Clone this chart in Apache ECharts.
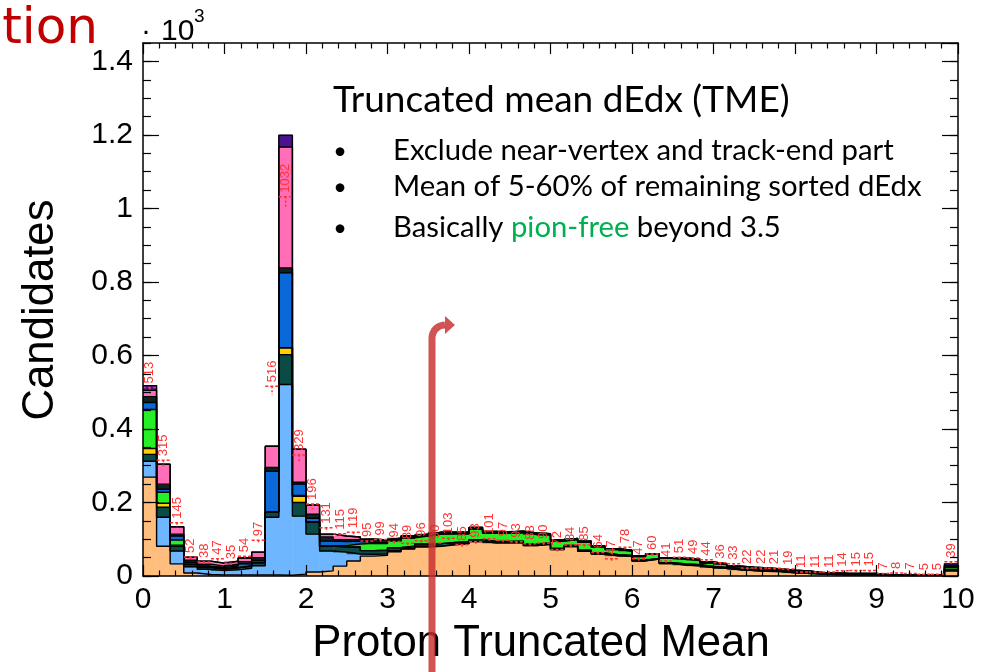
<!DOCTYPE html>
<html>
<head>
<meta charset="utf-8">
<script src="https://cdn.jsdelivr.net/npm/echarts@6/dist/echarts.min.js"></script>
<style>html,body{margin:0;padding:0;background:#fff;}#chart{width:1002px;height:672px;}</style>
</head>
<body>
<div id="chart"></div>
<script>
// ---------------- data (60 bins over 0..10) ----------------
const X_MIN = 0, X_MAX = 10, N_BINS = 60;
const xTickLabels = ['0','1','2','3','4','5','6','7','8','9','10'];
const yTickLabels = ['0','0.2','0.4','0.6','0.8','1','1.2','1.4'];

const proton = [269,81,33,8,4,3,3,3,3,3, 2,5,11,14,27,41,54,56,66,73, 79,81,85,88,94,90,90,91,83,86, 72,80,67,60,55,54,41,46,34,30, 28,23,21,17,15,13,12,9,8,5, 4,3,3,3,1,1,1,1,1,14];
const muon   = [43,79,35,17,14,12,14,18,25,157, 519,158,103,54,38,19,5,4,3,2, 2,1,1,0,0,0,0,0,0,0, 0,0,0,0,0,0,0,0,0,0, 0,0,0,0,0,0,0,0,0,0, 0,0,0,0,0,0,0,0,0,0];
const teal   = [19,27,13,6,5,4,5,6,8,14, 81,37,33,13,14,19,10,10,8,6, 6,6,5,5,5,4,4,4,4,4, 3,3,3,3,3,2,2,2,2,3, 3,3,2,2,2,2,1,1,1,1, 1,1,1,1,1,1,1,1,1,3];
const yellow = [16,11,3,0,0,0,0,0,0,0, 19,17,0,0,0,0,0,0,0,0, 0,0,0,0,0,0,0,0,0,0, 0,0,0,0,0,0,0,0,0,0, 0,0,0,0,0,0,0,0,0,0, 0,0,0,0,0,0,0,0,0,0];
const green  = [106,30,14,2,1,1,1,1,1,0, 0,2,0,0,4,8,20,18,18,22, 22,26,24,22,28,23,22,23,26,22, 20,16,22,16,14,12,10,11,12,13, 12,9,8,6,5,5,4,4,3,2, 2,2,2,2,1,1,1,1,1,6];
const blue   = [19,8,11,4,3,3,4,5,5,111, 204,31,10,14,11,8,3,2,2,1, 0,0,0,0,0,0,0,0,0,0, 0,0,0,0,0,0,0,0,0,0, 0,0,0,0,0,0,0,0,0,0, 0,0,0,0,0,0,0,0,0,0];
const dark   = [16,14,5,6,5,4,5,6,8,10, 13,5,11,11,5,4,8,8,6,5, 5,5,4,4,5,4,4,4,4,3, 3,3,3,3,2,2,2,2,2,3, 3,3,2,2,2,2,2,2,2,2, 1,1,1,1,0,0,0,0,0,5];
const pink   = [17,54,20,8,8,8,8,10,15,58, 329,90,25,8,10,7,0,0,0,0, 0,0,0,0,0,0,0,0,0,0, 0,0,0,0,0,0,0,0,0,0, 0,0,0,0,0,0,0,0,0,0, 0,0,0,0,0,0,0,0,0,0];
const purple = [13,0,0,0,0,0,0,0,0,0, 32,0,0,0,0,0,0,0,0,0, 0,0,0,0,0,0,0,0,0,0, 0,0,0,0,0,0,0,0,0,0, 0,0,0,0,0,0,0,0,0,0, 0,0,0,0,0,0,0,0,0,5];
// red dashed histogram with per-bin text
const redCounts = [513,315,145,52,38,47,35,54,97,516, 1032,329,196,131,115,119,95,99,94,89, 96,90,103,85,93,101,97,93,88,90, 72,84,85,64,47,78,47,60,41,51, 49,44,36,33,22,22,21,19,11,11, 11,14,15,15,7,8,7,5,5,39];

// ---------------- styling ----------------
const components = [
  {vals: proton, color: '#FFBE7D'},
  {vals: muon,   color: '#6EB6FF'},
  {vals: teal,   color: '#0B4B46'},
  {vals: yellow, color: '#FFD000'},
  {vals: green,  color: '#25F025'},
  {vals: blue,   color: '#0A68D8'},
  {vals: dark,   color: '#0E2222'},
  {vals: pink,   color: '#FF6EB6'},
  {vals: purple, color: '#4A1290'}
];
const RED = '#FF3333';
const AXIS_FONT = '"Liberation Sans", Arial, Helvetica, sans-serif';
const NOTE_FONT = 'Lato, "Noto Sans", sans-serif';
const BW = (X_MAX - X_MIN) / N_BINS;

// cumulative bases
const cum = [];
let running = new Array(N_BINS).fill(0);
components.forEach(c => {
  const lo = running.slice();
  const hi = running.map((r, i) => r + c.vals[i]);
  cum.push({lo, hi});
  running = hi;
});

const series = [];
components.forEach((c, k) => {
  series.push({
    type: 'custom', xAxisIndex: 0, yAxisIndex: 0, z: 2, silent: true,
    data: c.vals.map((v, i) => [X_MIN + i * BW, X_MIN + (i + 1) * BW, cum[k].lo[i], cum[k].hi[i]]),
    encode: {x: [0, 1], y: [2, 3]},
    renderItem: function (params, api) {
      const lo = api.value(2), hi = api.value(3);
      if (hi <= lo) return {type: 'group', children: []};
      const a = api.coord([api.value(0), lo]);
      const b = api.coord([api.value(1), hi]);
      return {type: 'rect', shape: {x: a[0], y: b[1], width: b[0] - a[0], height: a[1] - b[1]},
              style: {fill: c.color, stroke: c.color, lineWidth: 0.6}};
    }
  });
});
// black step outlines for each cumulative level
components.forEach((c, k) => {
  const pts = [];
  for (let i = 0; i <= N_BINS; i++) pts.push([X_MIN + i * BW, cum[k].hi[Math.min(i, N_BINS - 1)]]);
  series.push({
    type: 'line', step: 'end', data: pts, xAxisIndex: 0, yAxisIndex: 0, z: 3, silent: true,
    symbol: 'none', lineStyle: {color: '#000', width: 1.4}, animation: false
  });
});
// red text histogram
series.push({
  type: 'custom', xAxisIndex: 0, yAxisIndex: 0, z: 4, silent: true,
  data: redCounts.map((v, i) => [X_MIN + (i + 0.5) * BW, v, X_MIN + i * BW, X_MIN + (i + 1) * BW]),
  encode: {x: [0, 2, 3], y: 1},
  renderItem: function (params, api) {
    const v = api.value(1);
    const c = api.coord([api.value(0), v]);
    const l = api.coord([api.value(2), v]);
    const r = api.coord([api.value(3), v]);
    const e = api.coord([api.value(0), Math.max(0, v - Math.sqrt(v))]);
    return {type: 'group', children: [
      {type: 'line', shape: {x1: l[0], y1: c[1], x2: r[0], y2: c[1]}, style: {stroke: RED, lineWidth: 1.5, lineDash: [3, 2]}},
      {type: 'line', shape: {x1: c[0], y1: c[1], x2: c[0], y2: e[1]}, style: {stroke: RED, lineWidth: 1.5, lineDash: [2, 2]}},
      {type: 'text', x: c[0], y: c[1] - 4, rotation: Math.PI / 2,
       style: {text: String(v), fill: RED, font: '13px ' + AXIS_FONT, align: 'left', verticalAlign: 'middle'}}
    ]};
  }
});

// ---------------- axes ----------------
const tickStyle = {color: '#000', width: 1.2};
const lineStyle = {color: '#000', width: 1.5};
const TICK_FONT = 30;
function xAx(pos, labels) {
  return {
    type: 'value', min: X_MIN, max: X_MAX, interval: 1, position: pos, z: 10,
    axisLine: {show: true, onZero: false, lineStyle},
    axisTick: {show: true, inside: true, length: 11, lineStyle: tickStyle},
    minorTick: {show: true, splitNumber: 5, length: 5.5, lineStyle: tickStyle},
    splitLine: {show: false}, minorSplitLine: {show: false},
    axisLabel: labels ? {show: true, color: '#000', fontSize: TICK_FONT, fontFamily: AXIS_FONT, margin: 9,
      formatter: v => xTickLabels[Math.round(v)] || ''} : {show: false}
  };
}
const Y_MAX = 1450;
function yAx(pos, labels, minor) {
  return {
    type: 'value', min: 0, max: Y_MAX, interval: minor ? 50 : 200, position: pos, z: 10,
    axisLine: {show: !minor, onZero: false, lineStyle},
    axisTick: {show: true, inside: true, length: minor ? 8 : 16, lineStyle: tickStyle},
    splitLine: {show: false},
    axisLabel: labels ? {show: true, color: '#000', fontSize: TICK_FONT, fontFamily: AXIS_FONT, margin: 10,
      showMaxLabel: false,
      formatter: v => (v % 200 === 0 ? (yTickLabels[v / 200] || '') : '')} : {show: false}
  };
}

// ---------------- annotation text sizing ----------------
function fitSize(text, family, target) {
  const ctx = document.createElement('canvas').getContext('2d');
  ctx.font = '100px ' + family;
  return 100 * target / ctx.measureText(text).width;
}
const titleText = 'Truncated mean dEdx (TME)';
const bullet1 = 'Exclude near-vertex and track-end part';
const bullet2 = 'Mean of 5-60% of remaining sorted dEdx';
const titleSize = fitSize(titleText, NOTE_FONT, 457);
const bulletSize = fitSize(bullet1, NOTE_FONT, 500);
const xTitleSize = fitSize('Proton Truncated Mean', AXIS_FONT, 457);

// arrow shaft with rounded corner (annotation)
const arrowPts = [[432, 672], [432, 338]];
for (let s = 1; s <= 8; s++) {
  const a = Math.PI - s * Math.PI / 16;
  arrowPts.push([445 + 13 * Math.cos(a), 338 - 13 * Math.sin(a)]);
}
const ARROW = 'rgba(200,45,45,0.82)';

const graphic = [
  {type: 'text', x: 98, y: 30, z: 50, style: {text: 'tion', fill: '#C00000', font: '50px "DejaVu Sans", sans-serif', align: 'right', verticalAlign: 'middle'}},
  {type: 'text', x: 146, y: 32, z: 50, style: {text: '·', fill: '#000', font: '30px ' + AXIS_FONT, align: 'center', verticalAlign: 'middle'}},
  {type: 'text', x: 161, y: 32, z: 50, style: {text: '10', fill: '#000', font: '30px ' + AXIS_FONT, align: 'left', verticalAlign: 'middle'}},
  {type: 'text', x: 194, y: 17, z: 50, style: {text: '3', fill: '#000', font: '19px ' + AXIS_FONT, align: 'left', verticalAlign: 'middle'}},
  {type: 'text', x: 41, y: 310, rotation: Math.PI / 2, z: 50, style: {text: 'Candidates', fill: '#000', font: xTitleSize.toFixed(1) + 'px ' + AXIS_FONT, align: 'center', verticalAlign: 'middle'}},
  {type: 'text', x: 541, y: 644, z: 50, style: {text: 'Proton Truncated Mean', fill: '#000', font: xTitleSize.toFixed(1) + 'px ' + AXIS_FONT, align: 'center', verticalAlign: 'middle'}},
  {type: 'text', x: 333, y: 100, z: 50, style: {text: titleText, fill: '#000', font: titleSize.toFixed(1) + 'px ' + NOTE_FONT, align: 'left', verticalAlign: 'middle'}},
  {type: 'text', x: 340, y: 151, z: 50, style: {text: '•', fill: '#000', font: (bulletSize * 0.8).toFixed(1) + 'px ' + NOTE_FONT, align: 'center', verticalAlign: 'middle'}},
  {type: 'text', x: 340, y: 187, z: 50, style: {text: '•', fill: '#000', font: (bulletSize * 0.8).toFixed(1) + 'px ' + NOTE_FONT, align: 'center', verticalAlign: 'middle'}},
  {type: 'text', x: 340, y: 228, z: 50, style: {text: '•', fill: '#000', font: (bulletSize * 0.8).toFixed(1) + 'px ' + NOTE_FONT, align: 'center', verticalAlign: 'middle'}},
  {type: 'text', x: 393, y: 151, z: 50, style: {text: bullet1, fill: '#000', font: bulletSize.toFixed(1) + 'px ' + NOTE_FONT, align: 'left', verticalAlign: 'middle'}},
  {type: 'text', x: 393, y: 187, z: 50, style: {text: bullet2, fill: '#000', font: bulletSize.toFixed(1) + 'px ' + NOTE_FONT, align: 'left', verticalAlign: 'middle'}},
  {type: 'text', x: 393, y: 228, z: 50, style: {text: 'Basically {g|pion-free} beyond 3.5', fill: '#000', font: bulletSize.toFixed(1) + 'px ' + NOTE_FONT, align: 'left', verticalAlign: 'middle',
     rich: {g: {fill: '#00B050', fontSize: bulletSize, fontFamily: NOTE_FONT}}}},
  {type: 'polyline', z: 60, shape: {points: arrowPts}, style: {fill: null, stroke: ARROW, lineWidth: 7, lineJoin: 'round'}},
  {type: 'polygon', z: 60, shape: {points: [[445, 316], [455, 325], [445, 334]]}, style: {fill: ARROW}}
];

const chart = echarts.init(document.getElementById('chart'), null, {renderer: 'canvas'});
chart.setOption({
  animation: false,
  backgroundColor: '#fff',
  grid: {left: 143, right: 44, top: 43, bottom: 96, containLabel: false},
  xAxis: [xAx('bottom', true), xAx('top', false)],
  yAxis: [yAx('left', true, false), yAx('right', false, false), yAx('left', false, true), yAx('right', false, true)],
  series: series,
  graphic: graphic
});
</script>
</body>
</html>
